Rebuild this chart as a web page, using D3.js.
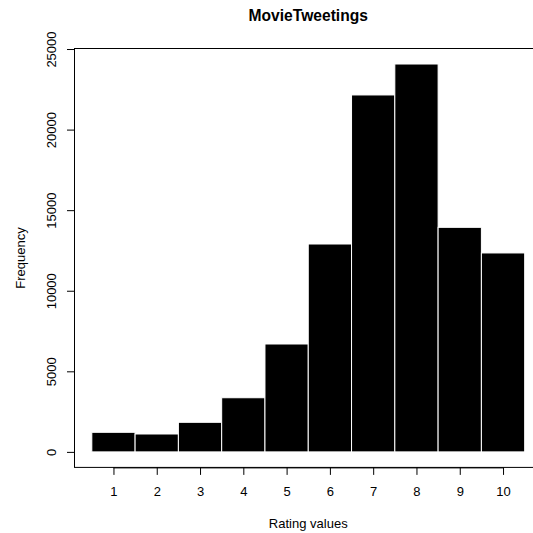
<!DOCTYPE html>
<html>
<head>
<meta charset="utf-8">
<script src="https://cdn.jsdelivr.net/npm/d3@7"></script>
<style>
  html, body { margin: 0; padding: 0; background: #fff; }
  svg { display: block; }
  text { font-family: "Liberation Sans", Arial, Helvetica, sans-serif; fill: #000; }
</style>
</head>
<body>
<svg id="chart" width="533" height="533"></svg>
<script>
// Histogram of rating values (1-10) with their frequencies
const ratings = [1, 2, 3, 4, 5, 6, 7, 8, 9, 10];
const counts = [1215, 1110, 1835, 3360, 6695, 12900, 22150, 24070, 13935, 12345];
const yTicks = [0, 5000, 10000, 15000, 20000, 25000];
const xTicks = ratings;
const titleText = "MovieTweetings";
const xLabelText = "Rating values";
const yLabelText = "Frequency";

const svg = d3.select("#chart");

// Plot region (extends past the right edge of the canvas)
const plotLeft = 74.5, plotRight = 542, plotTop = 48.5, plotBottom = 467.4;

// R-style 4% padding on both axes
const xMin = d3.min(ratings) - 0.5, xMax = d3.max(ratings) + 0.5;
const xPad = (xMax - xMin) * 0.04;
const x = d3.scaleLinear().domain([xMin - xPad, xMax + xPad]).range([plotLeft, plotRight]);

const yMax = d3.max(counts);
const y = d3.scaleLinear().domain([-0.04 * yMax, 1.04 * yMax]).range([plotBottom, plotTop]);

// Bars
svg.append("g")
  .selectAll("rect")
  .data(ratings.map((r, i) => ({ r, c: counts[i] })))
  .join("rect")
  .attr("x", d => x(d.r - 0.5))
  .attr("width", d => x(d.r + 0.5) - x(d.r - 0.5))
  .attr("y", d => y(d.c))
  .attr("height", d => y(0) - y(d.c))
  .attr("fill", "#000")
  .attr("stroke", "#fff")
  .attr("stroke-width", 1);

// Plot box
svg.append("rect")
  .attr("x", plotLeft).attr("y", plotTop)
  .attr("width", plotRight - plotLeft).attr("height", plotBottom - plotTop)
  .attr("fill", "none")
  .attr("stroke", "#000")
  .attr("stroke-width", 1);

// Y axis ticks and rotated labels
const yAxis = d3.axisLeft(y).tickValues(yTicks).tickSize(7.5).tickSizeOuter(0).tickFormat(d3.format("d"));
const gy = svg.append("g").attr("transform", `translate(${plotLeft},0)`).call(yAxis);
gy.select(".domain").remove();
gy.selectAll(".tick line").attr("stroke", "#000");
gy.selectAll(".tick text")
  .attr("x", null).attr("dy", null)
  .attr("text-anchor", "middle")
  .attr("font-size", 13)
  .attr("font-family", "'Liberation Sans', Arial, sans-serif")
  .attr("transform", `translate(${55.5 - plotLeft},0) rotate(-90)`);

// X axis line, ticks and labels
const xAxis = d3.axisBottom(x).tickValues(xTicks).tickSize(7.5).tickSizeOuter(0).tickFormat(d3.format("d"));
const gx = svg.append("g").attr("transform", `translate(0,${plotBottom})`).call(xAxis);
gx.select(".domain")
  .attr("d", `M${x(d3.min(xTicks))},0.5H${x(d3.max(xTicks))}`)
  .attr("stroke", "#000");
gx.selectAll(".tick line").attr("stroke", "#000");
gx.selectAll(".tick text")
  .attr("y", 496.5 - plotBottom).attr("dy", null)
  .attr("font-size", 13)
  .attr("font-family", "'Liberation Sans', Arial, sans-serif");

const cx = (plotLeft + plotRight) / 2;

// Title
svg.append("text")
  .attr("x", cx).attr("y", 21)
  .attr("text-anchor", "middle")
  .attr("font-size", 15.6)
  .attr("font-weight", "bold")
  .text(titleText);

// Axis titles
svg.append("text")
  .attr("x", cx).attr("y", 528)
  .attr("text-anchor", "middle")
  .attr("font-size", 13)
  .text(xLabelText);

svg.append("text")
  .attr("transform", `translate(24.5,${(plotTop + plotBottom) / 2}) rotate(-90)`)
  .attr("text-anchor", "middle")
  .attr("font-size", 13)
  .text(yLabelText);
</script>
</body>
</html>
